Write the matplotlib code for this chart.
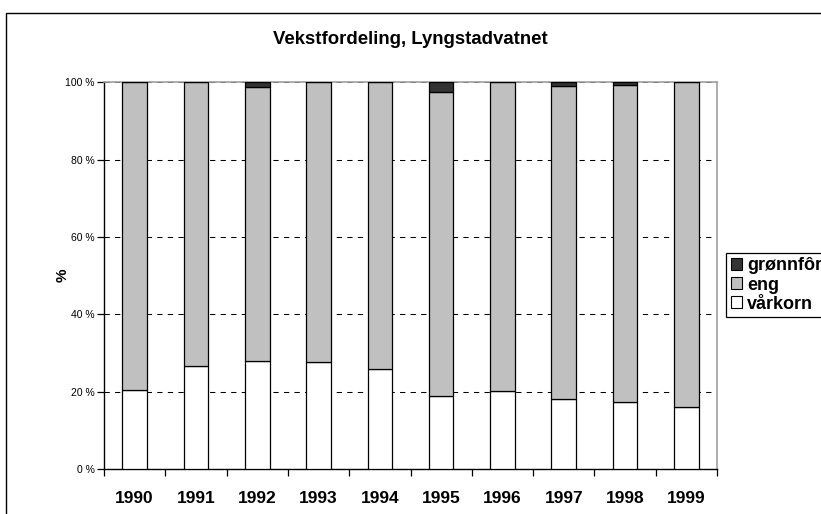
import matplotlib
matplotlib.use("Agg")
import matplotlib.pyplot as plt
from matplotlib.patches import Patch, Rectangle
from matplotlib.ticker import FixedLocator, FuncFormatter
import numpy as np

plt.rcParams['font.family'] = ['Liberation Sans', 'DejaVu Sans']
plt.rcParams['lines.scale_dashes'] = False

# Crop shares (%) per year
years = ['1990', '1991', '1992', '1993', '1994', '1995', '1996', '1997', '1998', '1999']
varkorn = [20.4, 26.7, 28.0, 27.6, 25.9, 19.0, 20.2, 18.0, 17.4, 16.0]
eng = [79.6, 73.3, 70.7, 72.4, 74.1, 78.4, 79.8, 81.1, 81.8, 84.0]
gronnfor = [0.0, 0.0, 1.3, 0.0, 0.0, 2.6, 0.0, 0.9, 0.8, 0.0]

series_names = ['vårkorn', 'eng', 'grønnfôr']
series_colors = ['#ffffff', '#c0c0c0', '#333333']

W, H = 821, 514
fig = plt.figure(figsize=(W / 100, H / 100), dpi=100)
fig.patch.set_facecolor('white')

# outer chart frame (runs past the right and bottom edges)
fig.patches.append(Rectangle((6 / W, -0.2), 1.0, (1 - 13 / H) + 0.2,
                             transform=fig.transFigure, fill=False,
                             edgecolor='black', lw=1.0, zorder=0))

ax = fig.add_axes([104 / W, (H - 469) / H, (717 - 104) / W, (469 - 82.3) / H])

x = np.arange(len(years))
bottom = np.zeros(len(years))
for vals, name, col in zip([varkorn, eng, gronnfor], series_names, series_colors):
    ax.bar(x, vals, width=0.4, bottom=bottom, color=col, edgecolor='black',
           linewidth=0.9, label=name, zorder=3)
    bottom = bottom + np.array(vals)

ax.set_xlim(-0.5, len(years) - 0.5)
ax.set_ylim(0, 100)

# gridlines
for v in [20, 40, 60, 80, 100]:
    ax.axhline(v, color='black', lw=0.75, linestyle=(0, (3.8, 3.8)), zorder=1)

# y axis
ax.yaxis.set_major_locator(FixedLocator([0, 20, 40, 60, 80, 100]))
ax.yaxis.set_major_formatter(FuncFormatter(lambda v, p: f"{int(v)} %"))
ax.tick_params(axis='y', direction='out', length=5, width=0.9, labelsize=7.5, pad=1.5)

# x axis: ticks between categories, labels centered
ax.xaxis.set_major_locator(FixedLocator(np.arange(-0.5, len(years), 1)))
ax.xaxis.set_major_formatter(FuncFormatter(lambda v, p: ''))
ax.xaxis.set_minor_locator(FixedLocator(x))
ax.set_xticklabels(years, minor=True, fontsize=12.5, fontweight='bold')
ax.tick_params(axis='x', which='major', direction='out', length=5, width=0.9)
ax.tick_params(axis='x', which='minor', length=0, pad=15.5)

for s in ['left', 'bottom']:
    ax.spines[s].set_color('black')
    ax.spines[s].set_linewidth(1.0)
for s in ['top', 'right']:
    ax.spines[s].set_color('#a0a0a0')
    ax.spines[s].set_linewidth(1.2)

# value axis title
fig.text(63 / W, 1 - 275 / H, '%', rotation=90, ha='center', va='center',
         fontsize=11, fontweight='bold')

fig.text(0.5, 1 - 40 / H, 'Vekstfordeling, Lyngstadvatnet', ha='center', va='center',
         fontsize=13.4, fontweight='bold')

handles = [Patch(facecolor=c, edgecolor='black', lw=0.8) for c in series_colors][::-1]
labels = series_names[::-1]
leg = fig.legend(handles, labels, loc='center left', bbox_to_anchor=(726 / W, 1 - 285 / H),
                 frameon=True, fancybox=False, edgecolor='black', framealpha=1,
                 prop={'weight': 'bold', 'size': 13}, handlelength=0.65, handleheight=0.65,
                 handletextpad=0.25, borderpad=0.25, labelspacing=0.12, borderaxespad=0)
leg.get_frame().set_linewidth(0.9)

fig.savefig('out.png', dpi=100)
